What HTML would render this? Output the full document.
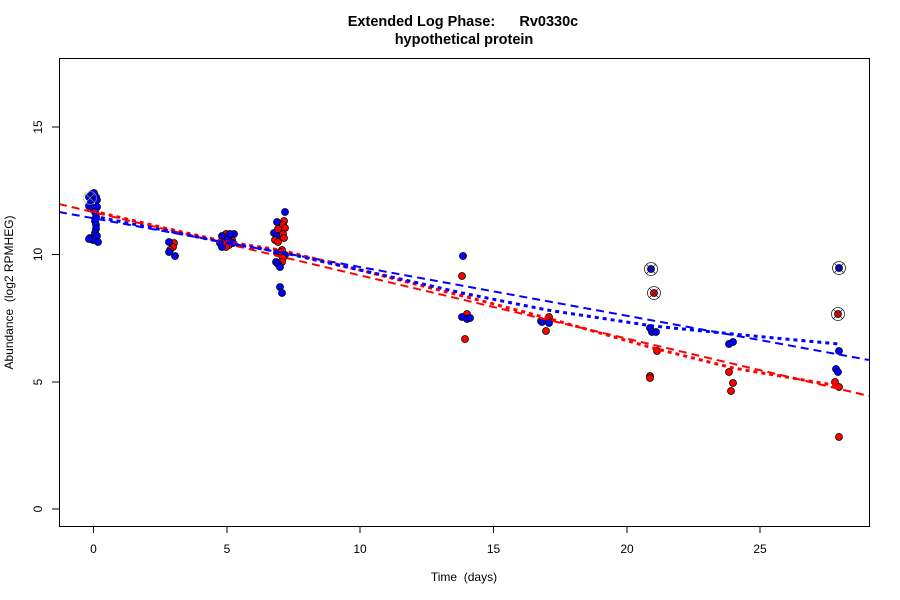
<!DOCTYPE html>
<html><head><meta charset="utf-8"><style>
html,body{margin:0;padding:0;background:#fff;}
svg{display:block;font-family:"Liberation Sans",Arial,sans-serif;}
</style></head><body>
<svg width="900" height="600" viewBox="0 0 900 600" xmlns="http://www.w3.org/2000/svg">
<rect width="900" height="600" fill="#fff"/>
<!-- title -->
<text x="463" y="26" font-size="14.5" font-weight="bold" text-anchor="middle" xml:space="preserve">Extended Log Phase:      Rv0330c</text>
<text x="464" y="44" font-size="14.5" font-weight="bold" text-anchor="middle">hypothetical protein</text>
<!-- plot box -->
<rect x="59.5" y="58.5" width="810" height="468" fill="none" stroke="#000" stroke-width="1"/>
<!-- x ticks -->
<g stroke="#000" stroke-width="1">
<line x1="93.5" y1="527" x2="93.5" y2="533"/>
<line x1="227" y1="527" x2="227" y2="533"/>
<line x1="360" y1="527" x2="360" y2="533"/>
<line x1="493.5" y1="527" x2="493.5" y2="533"/>
<line x1="627" y1="527" x2="627" y2="533"/>
<line x1="760" y1="527" x2="760" y2="533"/>
<line x1="52" y1="509" x2="59" y2="509"/>
<line x1="52" y1="382" x2="59" y2="382"/>
<line x1="52" y1="254.5" x2="59" y2="254.5"/>
<line x1="52" y1="127" x2="59" y2="127"/>
</g>
<g font-size="12" text-anchor="middle">
<text x="93.5" y="553">0</text>
<text x="227" y="553">5</text>
<text x="360" y="553">10</text>
<text x="493.5" y="553">15</text>
<text x="627" y="553">20</text>
<text x="760" y="553">25</text>
<text transform="translate(42,509) rotate(-90)">0</text>
<text transform="translate(42,382) rotate(-90)">5</text>
<text transform="translate(42,254.5) rotate(-90)">10</text>
<text transform="translate(42,127) rotate(-90)">15</text>
<text x="464" y="581" xml:space="preserve">Time  (days)</text>
<text transform="translate(13,292.5) rotate(-90)" xml:space="preserve">Abundance  (log2 RPMHEG)</text>
</g>
<!-- points -->
<g stroke="#000" stroke-width="0.8">
<!-- day 0 -->
<g fill="#0000ff">
<circle cx="89" cy="197" r="3.5"/><circle cx="92" cy="194" r="3.5"/><circle cx="94" cy="193" r="3.5"/>
<circle cx="96" cy="197" r="3.5"/><circle cx="91" cy="201" r="3.5"/><circle cx="97" cy="200" r="3.5"/>
<circle cx="89" cy="206" r="3.5"/><circle cx="93" cy="208" r="3.5"/><circle cx="97" cy="207" r="3.5"/>
<circle cx="95" cy="212" r="3.5"/><circle cx="96" cy="217" r="3.5"/><circle cx="95" cy="221" r="3.5"/>
<circle cx="96" cy="225" r="3.5"/><circle cx="96" cy="229" r="3.5"/><circle cx="95" cy="233" r="3.5"/>
<circle cx="97" cy="236" r="3.5"/><circle cx="90" cy="238" r="3.5"/><circle cx="93" cy="240" r="3.5"/>
<circle cx="98" cy="242" r="3.5"/><circle cx="89" cy="239" r="3.5"/>
</g>
<!-- day 3 -->
<circle cx="174" cy="243" r="3.5" fill="#ff0000"/><circle cx="173" cy="247" r="3.5" fill="#ff0000"/>
<circle cx="170" cy="250" r="3.5" fill="#ff0000"/>
<circle cx="169" cy="242" r="3.5" fill="#0000ff"/><circle cx="169" cy="252" r="3.5" fill="#0000ff"/>
<circle cx="175" cy="256" r="3.5" fill="#0000ff"/>
<!-- day 5 -->
<circle cx="226" cy="234" r="3.5" fill="#ff0000"/><circle cx="230" cy="237" r="3.5" fill="#ff0000"/>
<circle cx="224" cy="242" r="3.5" fill="#ff0000"/><circle cx="229" cy="245" r="3.5" fill="#ff0000"/>
<circle cx="232" cy="240" r="3.5" fill="#ff0000"/><circle cx="226" cy="247" r="3.5" fill="#ff0000"/>
<circle cx="222" cy="236" r="3.5" fill="#0000ff"/><circle cx="234" cy="234" r="3.5" fill="#0000ff"/>
<circle cx="220" cy="243" r="3.5" fill="#0000ff"/><circle cx="228" cy="239" r="3.5" fill="#0000ff"/>
<circle cx="233" cy="243" r="3.5" fill="#0000ff"/><circle cx="222" cy="247" r="3.5" fill="#0000ff"/>
<circle cx="230" cy="234" r="3.5" fill="#0000ff"/>
<!-- day 7 -->
<circle cx="285" cy="212" r="3.5" fill="#0000ff"/><circle cx="277" cy="222" r="3.5" fill="#0000ff"/>
<circle cx="274" cy="233" r="3.5" fill="#0000ff"/><circle cx="280" cy="233" r="3.5" fill="#0000ff"/>
<circle cx="277" cy="236" r="3.5" fill="#0000ff"/>
<circle cx="284" cy="221" r="3.5" fill="#ff0000"/><circle cx="283" cy="225" r="3.5" fill="#ff0000"/>
<circle cx="285" cy="228" r="3.5" fill="#ff0000"/><circle cx="278" cy="229" r="3.5" fill="#ff0000"/>
<circle cx="283" cy="234" r="3.5" fill="#ff0000"/><circle cx="284" cy="238" r="3.5" fill="#ff0000"/>
<circle cx="275" cy="240" r="3.5" fill="#ff0000"/><circle cx="278" cy="242" r="3.5" fill="#ff0000"/>
<circle cx="277" cy="253" r="3.5" fill="#0000ff"/><circle cx="280" cy="254" r="3.5" fill="#0000ff"/>
<circle cx="285" cy="255" r="3.5" fill="#0000ff"/>
<circle cx="282" cy="250" r="3.5" fill="#ff0000"/><circle cx="281" cy="252" r="3.5" fill="#ff0000"/>
<circle cx="283" cy="258" r="3.5" fill="#ff0000"/><circle cx="282" cy="262" r="3.5" fill="#ff0000"/>
<circle cx="276" cy="262" r="3.5" fill="#0000ff"/><circle cx="278" cy="264" r="3.5" fill="#0000ff"/>
<circle cx="280" cy="267" r="3.5" fill="#0000ff"/>
<circle cx="280" cy="287" r="3.5" fill="#0000ff"/><circle cx="282" cy="293" r="3.5" fill="#0000ff"/>
<!-- day 14 -->
<circle cx="463" cy="256" r="3.5" fill="#0000ff"/>
<circle cx="462" cy="276" r="3.5" fill="#ff0000"/>
<circle cx="467" cy="314" r="3.5" fill="#ff0000"/>
<circle cx="462" cy="317" r="3.5" fill="#0000ff"/><circle cx="467" cy="319" r="3.5" fill="#0000ff"/>
<circle cx="470" cy="318" r="3.5" fill="#0000ff"/>
<circle cx="465" cy="339" r="3.5" fill="#ff0000"/>
<!-- day 17 -->
<circle cx="541" cy="321" r="3.5" fill="#ff0000"/><circle cx="549" cy="317" r="3.5" fill="#ff0000"/>
<circle cx="549" cy="321" r="3.5" fill="#ff0000"/>
<circle cx="542" cy="322" r="3.5" fill="#0000ff"/><circle cx="549" cy="323" r="3.5" fill="#0000ff"/>
<circle cx="546" cy="331" r="3.5" fill="#ff0000"/>
<!-- day 21 -->
<circle cx="651" cy="269" r="3.5" fill="#0000ff"/>
<circle cx="654" cy="293" r="3.5" fill="#ff0000"/>
<circle cx="650" cy="328" r="3.5" fill="#0000ff"/><circle cx="652" cy="332" r="3.5" fill="#0000ff"/>
<circle cx="656" cy="332" r="3.5" fill="#0000ff"/>
<circle cx="657" cy="351" r="3.5" fill="#ff0000"/>
<circle cx="650" cy="376" r="3.5" fill="#ff0000"/><circle cx="650" cy="378" r="3.5" fill="#ff0000"/>
<!-- day 24 -->
<circle cx="729" cy="344" r="3.5" fill="#0000ff"/><circle cx="733" cy="342" r="3.5" fill="#0000ff"/>
<circle cx="729" cy="372" r="3.5" fill="#ff0000"/><circle cx="733" cy="383" r="3.5" fill="#ff0000"/>
<circle cx="731" cy="391" r="3.5" fill="#ff0000"/>
<!-- day 28 -->
<circle cx="839" cy="268" r="3.5" fill="#0000ff"/>
<circle cx="838" cy="314" r="3.5" fill="#ff0000"/>
<circle cx="839" cy="351" r="3.5" fill="#0000ff"/>
<circle cx="836" cy="369" r="3.5" fill="#0000ff"/><circle cx="838" cy="372" r="3.5" fill="#0000ff"/>
<circle cx="835" cy="382" r="3.5" fill="#ff0000"/><circle cx="839" cy="387" r="3.5" fill="#ff0000"/>
<circle cx="839" cy="437" r="3.5" fill="#ff0000"/>
</g>
<!-- fit lines -->
<clipPath id="pc"><rect x="60" y="59" width="809" height="467"/></clipPath>
<g clip-path="url(#pc)" fill="none">
<line x1="59" y1="204" x2="869" y2="396" stroke="#ff0000" stroke-width="2" stroke-dasharray="8 5"/>
<line x1="59" y1="212" x2="869" y2="360" stroke="#0000ff" stroke-width="2" stroke-dasharray="8 5"/>
<polyline points="93,211 173,230 227,242 280,250 467,297 547,318 653,348 733,368 839,386" stroke="#ff0000" stroke-width="3" stroke-dasharray="4 4"/>
<polyline points="93,216 173,232 227,243 280,252 467,294 547,310 653,326 733,334 839,344" stroke="#0000ff" stroke-width="3" stroke-dasharray="4 4"/>
</g>
<!-- outlier markers -->
<g fill="none" stroke="#222" stroke-width="0.8">
<g transform="translate(651,269)"><circle r="6.5"/><line x1="-4.6" y1="-4.6" x2="4.6" y2="4.6"/><line x1="-4.6" y1="4.6" x2="4.6" y2="-4.6"/></g>
<g transform="translate(654,293)"><circle r="6.5"/><line x1="-4.6" y1="-4.6" x2="4.6" y2="4.6"/><line x1="-4.6" y1="4.6" x2="4.6" y2="-4.6"/></g>
<g transform="translate(839,268)"><circle r="6.5"/><line x1="-4.6" y1="-4.6" x2="4.6" y2="4.6"/><line x1="-4.6" y1="4.6" x2="4.6" y2="-4.6"/></g>
<g transform="translate(838,314)"><circle r="6.5"/><line x1="-4.6" y1="-4.6" x2="4.6" y2="4.6"/><line x1="-4.6" y1="4.6" x2="4.6" y2="-4.6"/></g>
<g transform="translate(90,198)" stroke="#aaa" stroke-width="0.6"><line x1="-4.6" y1="-4.6" x2="4.6" y2="4.6"/><line x1="-4.6" y1="4.6" x2="4.6" y2="-4.6"/><circle r="6.5"/></g>
</g>
</svg>
</body></html>
